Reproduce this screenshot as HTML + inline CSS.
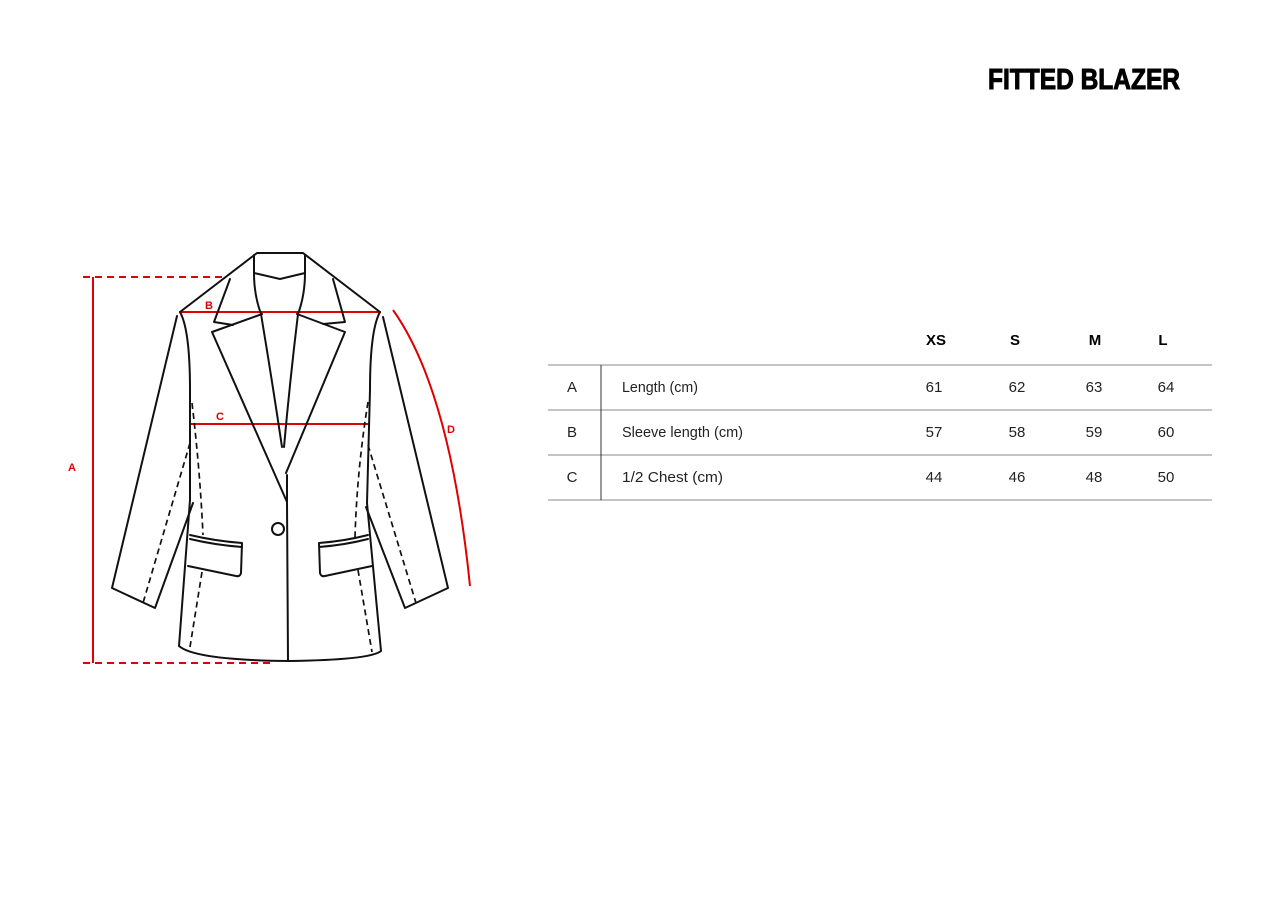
<!DOCTYPE html>
<html><head><meta charset="utf-8"><style>
html,body{margin:0;padding:0;background:#fff;}
svg{display:block;}
</style></head><body>
<svg width="1280" height="915" viewBox="0 0 1280 915" xmlns="http://www.w3.org/2000/svg" font-family="Liberation Sans, sans-serif">
<rect width="1280" height="915" fill="#fff"/>
<text x="1180" y="89" text-anchor="end" font-size="29" font-weight="bold" textLength="192" lengthAdjust="spacingAndGlyphs" fill="#000" stroke="#000" stroke-width="1">FITTED BLAZER</text>

<g stroke="#e00000" stroke-width="2" fill="none">
<line x1="93" y1="277" x2="93" y2="663"/>
<line x1="83" y1="277" x2="226" y2="277" stroke-dasharray="7,5"/>
<line x1="83" y1="663" x2="270" y2="663" stroke-dasharray="7,5"/>
<line x1="180" y1="312" x2="380" y2="312"/>
<line x1="191" y1="424" x2="369" y2="424"/>
<path d="M393,310 Q450,390 470,586"/>
</g>
<g fill="#e00000" font-size="11" font-weight="bold">
<text x="68" y="471">A</text>
<text x="205" y="309">B</text>
<text x="216" y="420">C</text>
<text x="447" y="433">D</text>
</g>

<g stroke="#111" stroke-width="2" fill="none" stroke-linejoin="round" stroke-linecap="round">
<path d="M180,312 L257,253 L303,253 L380,312"/>
<path d="M254,255 L254,273 L280,279 L305,273 L305,255"/>
<path d="M254,273 Q254,295 261,314 Q272,380 282,447"/>
<path d="M305,273 Q305,295 298,314 Q290,380 284,447"/>
<path d="M230,279 L214,322 L233,325"/>
<path d="M333,279 L345,322 L323,324"/>
<path d="M262,314 L212,332 L287,502"/>
<path d="M297,314 L345,332 L286,473"/>
<path d="M287,475 L287,502 L288,661"/>
<path d="M180,312 Q190,330 190,390 L190,500 L179,646 Q195,660 288,661"/>
<path d="M177,316 L112,588 L155,608 L193,503"/>
<path d="M380,312 Q370,330 370,390 L367,503 L381,651 Q370,660 288,661"/>
<path d="M383,317 L448,588 L405,608 L366,507"/>
<path d="M190,535 Q215,541 242,543 L241,573 Q240,577 236,576 L188,566"/>
<path d="M190,539 Q215,545 242,547"/>
<path d="M319,543 Q345,541 368,535 M319,547 Q345,545 368,539 M319,543 L320,573 Q321,577 325,576 L372,566"/>
<circle cx="278" cy="529" r="6"/>
</g>
<g stroke="#111" stroke-width="1.7" fill="none" stroke-dasharray="6,4">
<path d="M190,443 L143,603"/>
<path d="M192,403 Q200,470 203,535"/>
<path d="M202,572 L190,647"/>
<path d="M368,402 Q357,470 355,537"/>
<path d="M358,570 L372,652"/>
<path d="M368,445 L416,603"/>
</g>

<g stroke="#888" stroke-width="1">
<line x1="548" y1="365" x2="1212" y2="365"/>
<line x1="548" y1="410" x2="1212" y2="410"/>
<line x1="548" y1="455" x2="1212" y2="455"/>
<line x1="548" y1="500" x2="1212" y2="500"/>
</g>
<line x1="601" y1="365" x2="601" y2="500" stroke="#333" stroke-width="1"/>
<g font-size="15" font-weight="bold" text-anchor="middle" fill="#000">
<text x="936" y="345">XS</text><text x="1015" y="345">S</text><text x="1095" y="345">M</text><text x="1163" y="345">L</text>
</g>
<g font-size="15" fill="#222">
<g text-anchor="middle">
<text x="572" y="392">A</text><text x="572" y="437">B</text><text x="572" y="482">C</text>
<text x="934" y="392">61</text><text x="1017" y="392">62</text><text x="1094" y="392">63</text><text x="1166" y="392">64</text>
<text x="934" y="437">57</text><text x="1017" y="437">58</text><text x="1094" y="437">59</text><text x="1166" y="437">60</text>
<text x="934" y="482">44</text><text x="1017" y="482">46</text><text x="1094" y="482">48</text><text x="1166" y="482">50</text>
</g>
<text x="622" y="392" textLength="76" lengthAdjust="spacingAndGlyphs">Length (cm)</text>
<text x="622" y="437" textLength="121" lengthAdjust="spacingAndGlyphs">Sleeve length (cm)</text>
<text x="622" y="482" textLength="101" lengthAdjust="spacingAndGlyphs">1/2 Chest (cm)</text>
</g>
</svg>
</body></html>
